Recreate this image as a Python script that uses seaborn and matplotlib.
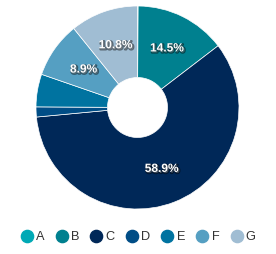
import matplotlib
matplotlib.use("Agg")
import matplotlib.pyplot as plt
import matplotlib.patheffects as pe
from matplotlib.lines import Line2D
import seaborn as sns

categories = ["A", "B", "C", "D", "E", "F", "G"]
values = [0.1, 14.5, 58.9, 1.6, 5.2, 8.9, 10.8]
labels_shown = ["", "14.5%", "58.9%", "", "", "8.9%", "10.8%"]
colors = ["#00A9B5", "#00808F", "#002858", "#004D86", "#0073A0", "#559FC2", "#A0BDD3"]

sns.set_theme(style="white")
plt.rcParams["font.family"] = ["Liberation Sans", "DejaVu Sans"]
palette = sns.color_palette(colors)

W, H = 276, 254
fig = plt.figure(figsize=(W / 100, H / 100), dpi=100)
fig.patch.set_facecolor("white")
cx, cy, R = 137.5, 107.5, 101.5
ax = fig.add_axes([(cx - R) / W, 1 - (cy + R) / H, 2 * R / W, 2 * R / H])

wedges, texts = ax.pie(
    values,
    colors=palette,
    startangle=90,
    counterclock=False,
    radius=1,
    labels=labels_shown,
    labeldistance=0.65,
    wedgeprops=dict(width=1 - 30 / R, edgecolor="white", linewidth=0.5),
    textprops=dict(color="white", fontsize=8.6, fontweight="bold", ha="center", va="center"),
)
ax.set_xlim(-1, 1)
ax.set_ylim(-1, 1)
ax.set_aspect("equal")
ax.axis("off")
for t in texts:
    t.set_path_effects([
        pe.Stroke(offset=(0.8, -0.8), linewidth=1.6, foreground="black", alpha=0.45),
        pe.Normal(),
    ])

handles = [Line2D([0], [0], marker="o", linestyle="", markersize=8.8,
                  markerfacecolor=c, markeredgecolor=c) for c in palette]
fig.legend(handles, categories, loc="center", bbox_to_anchor=(0.5, 1 - 237 / H),
           ncol=7, frameon=False, fontsize=9.2, handlelength=1.0, handletextpad=0.22,
           columnspacing=0.85, labelcolor="#333333", borderaxespad=0, borderpad=0)

fig.savefig("out.png", dpi=100, facecolor="white")
